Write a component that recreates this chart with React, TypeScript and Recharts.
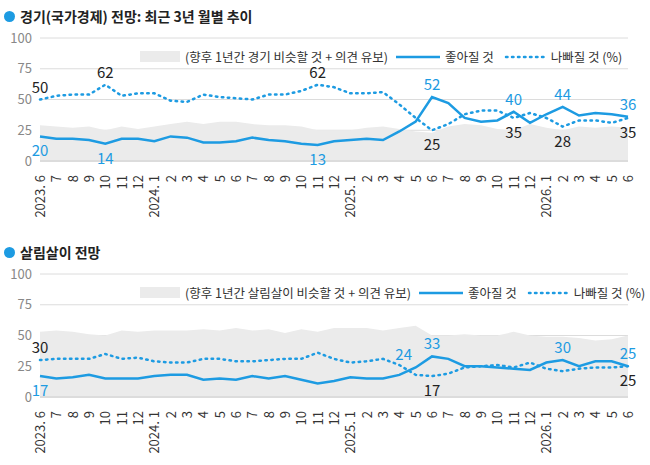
import React, { useEffect } from "react";
import { ComposedChart, Line, Area, XAxis, YAxis, CartesianGrid, LabelList } from "recharts";

const months = [
  "2023. 6", "7", "8", "9", "10", "11", "12",
  "2024. 1", "2", "3", "4", "5", "6", "7", "8", "9", "10", "11", "12",
  "2025. 1", "2", "3", "4", "5", "6", "7", "8", "9", "10", "11", "12",
  "2026. 1", "2", "3", "4", "5", "6",
];

const econGood = [20, 18, 18, 17, 14, 18, 18, 16, 20, 19, 15, 15, 16, 19, 17, 16, 14, 13, 16, 17, 18, 17, 24, 32, 52, 47, 35, 32, 33, 40, 31, 38, 44, 37, 39, 38, 36];
const econBad = [50, 53, 54, 54, 62, 53, 55, 55, 49, 48, 54, 52, 51, 50, 54, 54, 57, 62, 60, 55, 55, 56, 46, 35, 25, 30, 38, 41, 41, 35, 39, 35, 28, 33, 33, 31, 35];
const econSame = [29, 28, 27, 28, 25, 28, 26, 28, 30, 32, 30, 32, 32, 30, 29, 29, 28, 25, 25, 25, 27, 28, 26, 24, 23, 28, 30, 29, 26, 25, 30, 27, 25, 28, 27, 28, 27];

const lifeGood = [17, 15, 16, 18, 15, 15, 15, 17, 18, 18, 14, 15, 14, 17, 15, 17, 14, 11, 13, 16, 15, 15, 18, 24, 33, 31, 25, 25, 24, 23, 22, 28, 30, 25, 29, 29, 25];
const lifeBad = [30, 31, 31, 31, 35, 31, 32, 29, 28, 28, 31, 31, 29, 29, 30, 31, 31, 36, 31, 28, 29, 31, 26, 18, 17, 19, 24, 25, 26, 24, 28, 23, 21, 23, 24, 24, 25];
const lifeSame = [53, 54, 53, 51, 50, 54, 53, 54, 54, 54, 55, 54, 56, 54, 55, 52, 55, 53, 56, 56, 56, 54, 56, 58, 50, 50, 51, 50, 50, 53, 50, 49, 49, 48, 46, 47, 50];

// index -> label placement
const econGoodLabels: Record<number, string> = { 0: "down", 4: "down", 17: "down", 24: "up", 29: "up", 32: "up", 36: "up" };
const econBadLabels: Record<number, string> = { 0: "up", 4: "up", 17: "up", 24: "down", 29: "down", 32: "down", 36: "down" };
const lifeGoodLabels: Record<number, string> = { 0: "down", 23: "upleft", 24: "up", 32: "up", 36: "up" };
const lifeBadLabels: Record<number, string> = { 0: "up", 24: "down", 36: "down" };

const BLUE = "#1d9be2";
const FONT = "'Noto Sans CJK KR', 'Noto Sans', sans-serif";

function build(good: number[], bad: number[], same: number[]) {
  return months.map((m, i) => ({ m, good: good[i], bad: bad[i], same: same[i] }));
}

const MonthTick = (props: any) => {
  const { x, y, payload } = props;
  return (
    <text x={x} y={y + 6} transform={`rotate(-90 ${x} ${y + 6})`} textAnchor="end" dy={5} fontSize={13} fill="#333" fontFamily={FONT}>
      {payload.value}
    </text>
  );
};

const makeLabel = (map: Record<number, string>, color: string) => (props: any) => {
  const { x, y, value, index } = props;
  const pos = map[index];
  if (!pos) return null;
  const dy = pos === "down" ? 20 : -7;
  const dx = pos === "upleft" ? -12 : 0;
  return (
    <text x={x + dx} y={y + dy} textAnchor="middle" fontSize={15} fill={color} fontFamily={FONT}>
      {value}
    </text>
  );
};

function Panel({ top, title, legendText, data, goodMap, badMap }: any) {
  return (
    <div style={{ position: "absolute", left: 0, top, width: 650, height: 235 }}>
      <div style={{ position: "absolute", left: 4, top: 0, fontSize: 14, fontWeight: 700, color: "#222", fontFamily: FONT, display: "flex", alignItems: "center" }}>
        <span style={{ width: 11, height: 11, borderRadius: 6, background: BLUE, display: "inline-block", marginRight: 5 }} />
        {title}
      </div>
      <ComposedChart width={650} height={205} data={data} style={{ position: "absolute", top: 15, left: 0 }} margin={{ top: 17, right: 22, left: 0, bottom: 0 }}>
        <CartesianGrid vertical={false} stroke="#dcdcdc" />
        <XAxis dataKey="m" interval={0} tick={<MonthTick />} height={65} tickLine={false} axisLine={{ stroke: "#ccc" }} />
        <YAxis domain={[0, 100]} ticks={[0, 25, 50, 75, 100]} width={40} tickLine={false} axisLine={false} tick={{ fontSize: 13, fill: "#888", fontFamily: FONT }} />
        <Area dataKey="same" type="linear" stroke="none" fill="#ebebeb" fillOpacity={1} isAnimationActive={false} />
        <Line dataKey="bad" type="linear" stroke={BLUE} strokeWidth={2.5} strokeDasharray="1.5 4.5" strokeLinecap="round" dot={false} isAnimationActive={false}>
          <LabelList dataKey="bad" content={makeLabel(badMap, "#222")} />
        </Line>
        <Line dataKey="good" type="linear" stroke={BLUE} strokeWidth={2.5} dot={false} isAnimationActive={false}>
          <LabelList dataKey="good" content={makeLabel(goodMap, BLUE)} />
        </Line>
      </ComposedChart>
      <div style={{ position: "absolute", top: 41, left: 140, display: "flex", alignItems: "center", fontSize: 12.5, color: "#333", fontFamily: FONT, whiteSpace: "nowrap" }}>
        <span style={{ width: 40, height: 11, background: "#ebebeb", display: "inline-block", marginRight: 5 }} />
        {legendText}
        <svg width={44} height={10} style={{ margin: "0 5px 0 8px" }}><line x1={0} y1={5} x2={44} y2={5} stroke={BLUE} strokeWidth={2.5} /></svg>
        좋아질 것
        <svg width={42} height={10} style={{ margin: "0 5px 0 10px" }}><line x1={2} y1={5} x2={40} y2={5} stroke={BLUE} strokeWidth={2.5} strokeDasharray="1.5 4.5" strokeLinecap="round" /></svg>
        나빠질 것 (%)
      </div>
    </div>
  );
}

export default function App() {
  useEffect(() => {
    document.body.style.margin = "0";
  }, []);
  return (
    <div style={{ position: "relative", width: 650, height: 465, background: "#fff" }}>
      <Panel top={6} title="경기(국가경제) 전망:  최근 3년 월별 추이" legendText="(향후 1년간 경기 비슷할 것 + 의견 유보)" data={build(econGood, econBad, econSame)} goodMap={econGoodLabels} badMap={econBadLabels} />
      <Panel top={242} title="살림살이 전망" legendText="(향후 1년간 살림살이 비슷할 것 + 의견 유보)" data={build(lifeGood, lifeBad, lifeSame)} goodMap={lifeGoodLabels} badMap={lifeBadLabels} />
    </div>
  );
}
